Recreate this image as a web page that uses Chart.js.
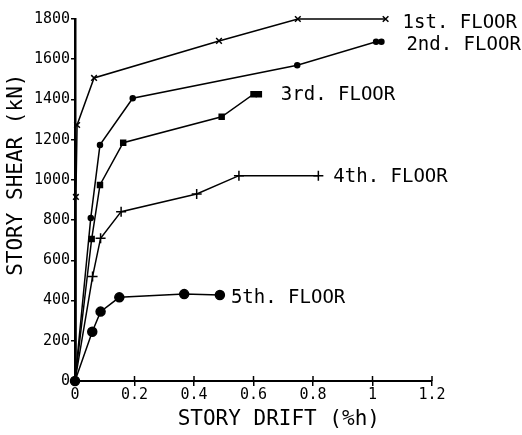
<!DOCTYPE html>
<html>
<head>
<meta charset="utf-8">
<script src="https://cdn.jsdelivr.net/npm/chart.js@4.4.0/dist/chart.umd.min.js"></script>
<style>
  body { margin: 0; background: #fff; }
  #wrap { width: 522px; height: 435px; }
</style>
</head>
<body>
<div id="wrap"><canvas id="mycanvas" width="522" height="435"></canvas></div>
<script>
// story drift (%h) and story shear (kN)
var floors = ['1st. FLOOR', '2nd. FLOOR', '3rd. FLOOR', '4th. FLOOR', '5th. FLOOR'];

var drift1 = [0, 0.003, 0.007, 0.064, 0.484, 0.749, 1.044];
var shear1 = [0, 915, 1273, 1507, 1691, 1800, 1800];

var drift2 = [0, 0.053, 0.084, 0.194, 0.747, 1.012, 1.03];
var shear2 = [0, 811, 1174, 1406, 1570, 1687, 1687];

var drift3 = [0, 0.056, 0.084, 0.162, 0.493, 0.6, 0.618];
var shear3 = [0, 706, 975, 1185, 1314, 1426, 1426];

var drift4 = [0, 0.059, 0.086, 0.155, 0.409, 0.551, 0.818];
var shear4 = [0, 519, 710, 842, 930, 1021, 1021];

var drift5 = [0, 0.058, 0.086, 0.149, 0.367, 0.487];
var shear5 = [0, 245, 345, 416, 432, 428];

var xTickLabels = ['0', '0.2', '0.4', '0.6', '0.8', '1', '1.2'];
var yTickLabels = ['0', '200', '400', '600', '800', '1000', '1200', '1400', '1600', '1800'];

function pts(xs, ys) {
    var out = [];
    for (var i in xs) {
        out.push({x: xs[i], y: ys[i]});
    }
    return out;
}

var mono = 'DejaVu Sans Mono';

// where the floor label sits, relative to the last point of its line
var labelOffsets = [[17, 4], [25, 3], [22, 1], [15, 1], [11, 3]];

var endLabels = {
    id: 'endLabels',
    afterDatasetsDraw: function(chart) {
        var ctx = chart.ctx;
        ctx.save();
        ctx.font = '19px "' + mono + '"';
        ctx.fillStyle = '#000';
        ctx.textAlign = 'left';
        ctx.textBaseline = 'middle';
        chart.data.datasets.forEach(function(ds, i) {
            var meta = chart.getDatasetMeta(i);
            var last = meta.data[meta.data.length - 1];
            ctx.fillText(ds.label, last.x + labelOffsets[i][0], last.y + labelOffsets[i][1]);
        });
        ctx.restore();
    }
};

// the x ticks in the original cross the axis line, so add the upper half
var xTickUp = {
    id: 'xTickUp',
    afterDraw: function(chart) {
        var ctx = chart.ctx;
        var sx = chart.scales.x;
        ctx.save();
        ctx.strokeStyle = '#000';
        ctx.lineWidth = 1.5;
        sx.ticks.forEach(function(t) {
            if (t.value === 0) return;
            var px = sx.getPixelForValue(t.value);
            ctx.beginPath();
            ctx.moveTo(px, sx.top);
            ctx.lineTo(px, sx.top - 5);
            ctx.stroke();
        });
        ctx.restore();
    }
};

function line(label, data, style, radius) {
    return {
        label: label,
        data: data,
        borderColor: '#000',
        backgroundColor: '#000',
        borderWidth: 1.5,
        pointStyle: style,
        pointRadius: radius,
        pointBorderWidth: 1.5,
        pointBorderColor: '#000',
        pointBackgroundColor: '#000',
        tension: 0,
        clip: false
    };
}

var chartdata = {
    datasets: [
        line(floors[0], pts(drift1, shear1), 'crossRot', 4),
        line(floors[1], pts(drift2, shear2), 'circle', 2.5),
        line(floors[2], pts(drift3, shear3), 'rect', 3.5),
        line(floors[3], pts(drift4, shear4), 'cross', 5),
        line(floors[4], pts(drift5, shear5), 'circle', 4.5)
    ]
};

var ctx = document.getElementById('mycanvas');

var chart = new Chart(ctx, {
    type: 'line',
    data: chartdata,
    plugins: [endLabels, xTickUp],
    options: {
        responsive: false,
        animation: false,
        layout: { padding: { top: 19, right: 90, left: 0, bottom: 0 } },
        plugins: {
            legend: { display: false },
            tooltip: { enabled: false }
        },
        scales: {
            x: {
                type: 'linear',
                min: 0,
                max: 1.2,
                afterFit: function(scale) { scale.height = 54; },
                border: { color: '#000', width: 2 },
                grid: { drawOnChartArea: false, color: '#000', tickLength: 5, lineWidth: 1.5 },
                ticks: {
                    stepSize: 0.2,
                    padding: 0,
                    color: '#000',
                    font: { family: mono, size: 15 },
                    maxRotation: 0,
                    callback: function(v, i) { return xTickLabels[i]; }
                },
                title: {
                    display: true,
                    text: '    STORY DRIFT (%h)',
                    color: '#000',
                    font: { family: mono, size: 21 },
                    padding: { top: 0, bottom: 3 }
                }
            },
            y: {
                min: 0,
                max: 1800,
                afterFit: function(scale) { scale.width = 75; },
                border: { color: '#000', width: 2.5 },
                grid: { drawOnChartArea: false, color: '#000', tickLength: 4, lineWidth: 1.5 },
                ticks: {
                    stepSize: 200,
                    padding: 1,
                    color: '#000',
                    font: { family: mono, size: 15 },
                    callback: function(v, i) { return yTickLabels[i]; }
                },
                title: {
                    display: true,
                    text: '    STORY SHEAR (kN)',
                    color: '#000',
                    font: { family: mono, size: 21 },
                    padding: { top: 4, bottom: 0 }
                }
            }
        }
    }
});
</script>
</body>
</html>
